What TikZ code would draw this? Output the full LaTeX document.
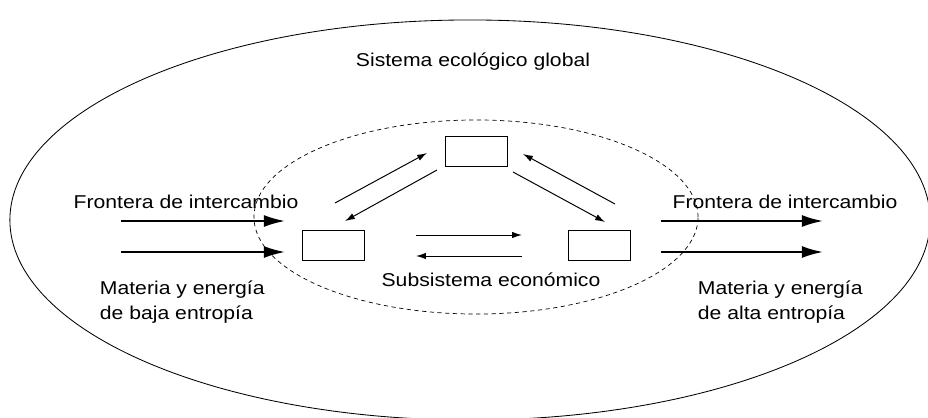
\documentclass[tikz,border=0pt]{standalone}
\usepackage{fontspec}
\setmainfont{Liberation Sans}[FakeStretch=1.14]
\usetikzlibrary{arrows.meta,positioning}

\begin{document}
\begin{tikzpicture}[x=0.025cm,y=-0.025cm,
  font=\fontsize{13.2}{17.8}\selectfont,
  box/.style={draw,rectangle,minimum width=1.55cm,minimum height=0.75cm,inner sep=0pt,line width=0.6pt},
  flow/.style={-{Latex[length=7pt,width=4.5pt]},line width=0.7pt},
  bigflow/.style={-{Latex[length=15pt,width=8.5pt]},line width=1.4pt}]
  \useasboundingbox (0,0) rectangle (928,417);
  % the two systems
  \draw[line width=0.6pt] (470,220) ellipse [x radius=11.5cm,y radius=5cm];
  \draw[line width=0.5pt,dash pattern=on 3pt off 2.5pt] (476,217) ellipse [x radius=5.55cm,y radius=2.425cm];
  \node (global) at (473,62) {Sistema ecológico global};
  \node (econ) at (491,280) {Subsistema económico};
  % boxes
  \node[box] (top) at (476.5,151.5) {};
  \node[box] (left) at (333.5,245) {};
  \node[box] (right) at (599,245) {};
  \coordinate (a1) at (335,203);
  \coordinate (b1) at (427,153);
  \coordinate (a2) at (437,170);
  \coordinate (b2) at (345,221);
  \coordinate (a3) at (513,172);
  \coordinate (b3) at (605,222);
  \coordinate (a4) at (615,204);
  \coordinate (b4) at (523,154);
  \coordinate (a5) at (416,235);
  \coordinate (b5) at (522,235);
  \coordinate (a6) at (522,256);
  \coordinate (b6) at (416,256);
  \path[flow]
    (a1) edge (b1)
    (a2) edge (b2)
    (a3) edge (b3)
    (a4) edge (b4)
    (a5) edge (b5)
    (a6) edge (b6);
  % exchange with the outside
  \node (fin) at (186,202) {Frontera de intercambio};
  \node (fout) at (785,202) {Frontera de intercambio};
  \node[anchor=west,align=left] (min) at (95,302.5) {Materia y energía\\de baja entropía};
  \node[anchor=west,align=left] (mout) at (693,302.5) {Materia y energía\\de alta entropía};
  \coordinate (c1) at (121,221);
  \coordinate (d1) at (285,221);
  \coordinate (c2) at (121,252);
  \coordinate (d2) at (285,252);
  \coordinate (c3) at (661,221);
  \coordinate (d3) at (823,221);
  \coordinate (c4) at (661,252);
  \coordinate (d4) at (823,252);
  \path[bigflow]
    (c1) edge (d1)
    (c2) edge (d2)
    (c3) edge (d3)
    (c4) edge (d4);
\end{tikzpicture}
\end{document}
